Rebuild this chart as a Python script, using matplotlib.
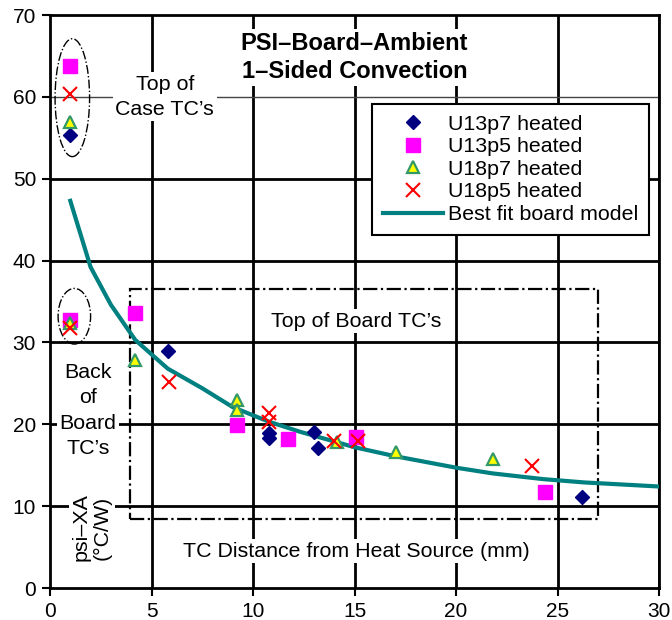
import matplotlib
matplotlib.use("Agg")
import matplotlib.pyplot as plt
from matplotlib.patches import Ellipse, Rectangle

plt.rcParams['font.family'] = ['Liberation Sans', 'DejaVu Sans']

# U13p7 heated
u13p7_x = [1.0, 5.8, 10.8, 10.8, 13.0, 13.2, 26.2]
u13p7_y = [55.3, 28.9, 18.9, 18.3, 19.0, 17.1, 11.1]
# U13p5 heated
u13p5_x = [1.0, 1.0, 4.2, 9.2, 11.7, 15.05, 24.4]
u13p5_y = [63.8, 32.8, 33.6, 19.9, 18.2, 18.4, 11.7]
# U18p7 heated
u18p7_x = [1.0, 1.0, 4.2, 9.2, 9.2, 14.15, 17.05, 21.8]
u18p7_y = [56.9, 32.4, 27.8, 23.0, 21.8, 17.8, 16.6, 15.8]
# U18p5 heated
u18p5_x = [1.0, 1.0, 5.85, 10.8, 10.8, 14.0, 15.15, 23.75]
u18p5_y = [60.3, 31.8, 25.2, 21.4, 20.3, 17.9, 18.0, 14.9]
# best fit board model
fit_x = [1, 2, 3, 4.2, 5.8, 7.5, 9.0, 10.8, 12.3, 15, 17, 20, 21.8, 24.3, 26.3, 30]
fit_y = [47.3, 39.2, 34.6, 30.3, 26.8, 24.4, 22.1, 20.3, 19.1, 17.2, 16.1, 14.7, 14.0, 13.3, 12.9, 12.4]

xticks = [0, 5, 10, 15, 20, 25, 30]
yticks = [0, 10, 20, 30, 40, 50, 60, 70]

fig = plt.figure(figsize=(6.72, 6.2), dpi=100)
ax = fig.add_axes([0.0744, 0.0516, 0.9063, 0.9242])
ax.set_xlim(0, 30)
ax.set_ylim(0, 70)

for x in xticks[1:]:
    ax.axvline(x, color='black', lw=2, zorder=1)
for y in yticks[1:-1]:
    if y == 60:
        ax.axhline(y, color='#444444', lw=1, zorder=1)
    else:
        ax.axhline(y, color='black', lw=2, zorder=1)

for s in ax.spines.values():
    s.set_linewidth(2)
ax.set_xticks(xticks)
ax.set_yticks(yticks)
ax.tick_params(direction='out', length=6, width=1.5, labelsize=15, pad=4)

fs = 15.4
ax.plot(fit_x, fit_y, color='#008080', lw=3, zorder=4, label='Best fit board model')
ax.plot(u13p7_x, u13p7_y, 'D', ms=7.5, color='#000080', ls='none', zorder=5, label='U13p7 heated')
ax.plot(u13p5_x, u13p5_y, 's', ms=10, color='#FF00FF', ls='none', zorder=5, label='U13p5 heated')
ax.plot(u18p7_x, u18p7_y, '^', ms=9, mfc='#FFFF00', mec='#339966', mew=1.6, ls='none', zorder=5, label='U18p7 heated')
ax.plot(u18p5_x, u18p5_y, 'x', ms=10, color='#FF0000', mew=1.5, ls='none', zorder=6, label='U18p5 heated')

ax.add_patch(Ellipse((1.1, 59.9), 1.7, 14.4, fill=False, ec='black', ls='-.', lw=1, zorder=3))
ax.add_patch(Ellipse((1.2, 33.2), 1.6, 6.8, fill=False, ec='black', ls='-.', lw=1, zorder=3))
ax.add_patch(Rectangle((3.94, 8.4), 27.0 - 3.94, 36.5 - 8.4, fill=False, ec='black', ls='-.', lw=1.6, zorder=2))

box = dict(facecolor='white', edgecolor='none', pad=2)
ax.text(15.0, 64.8, 'PSI\u2013Board\u2013Ambient\n1\u2013Sided Convection', ha='center', va='center',
        fontsize=17, fontweight='bold', linespacing=1.32, bbox=box, zorder=3)
ax.text(5.65, 60.0, 'Top of\nCase TC\u2019s', ha='center', va='center', fontsize=fs,
        linespacing=1.38, bbox=box, zorder=3)
ax.text(15.1, 32.6, 'Top of Board TC\u2019s', ha='center', va='center', fontsize=fs, bbox=box, zorder=3)
ax.text(1.87, 21.7, 'Back\nof\nBoard\nTC\u2019s', ha='center', va='center', fontsize=fs,
        linespacing=1.42, bbox=box, zorder=3)
ax.text(2.05, 7.4, 'psi\u2013XA\n(\u00b0C/W)', ha='center', va='center', rotation=90, fontsize=fs,
        linespacing=1.15, bbox=box, zorder=3)
ax.text(15.1, 4.5, 'TC Distance from Heat Source (mm)', ha='center', va='center', fontsize=fs,
        bbox=box, zorder=3)

handles, labels = ax.get_legend_handles_labels()
order = [1, 2, 3, 4, 0]
leg = ax.legend([handles[i] for i in order], [labels[i] for i in order], loc='upper left',
                bbox_to_anchor=(0.529, 0.845), fontsize=fs, fancybox=False, framealpha=1,
                edgecolor='black', handlelength=2.8, handletextpad=0.25, labelspacing=0.17,
                borderpad=0.5, borderaxespad=0)
leg.get_frame().set_linewidth(1.5)
leg.set_zorder(7)

fig.savefig('out.png', dpi=100)
